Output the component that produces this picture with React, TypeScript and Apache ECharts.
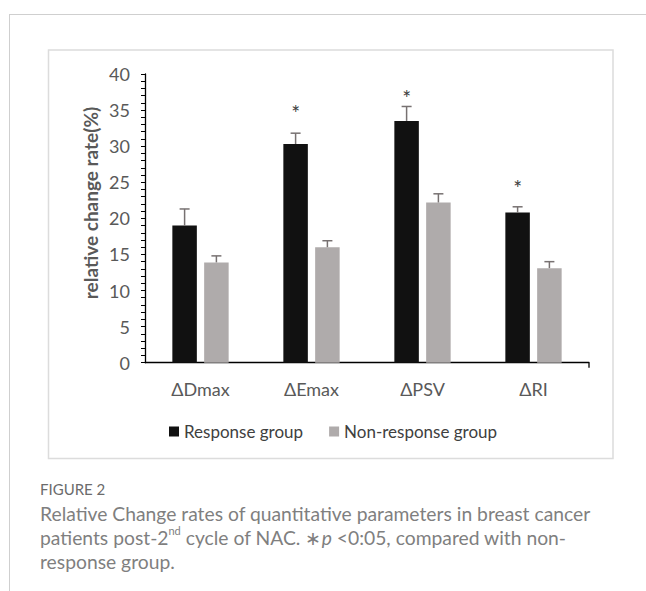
import React, { useEffect, useRef } from "react";
import * as echarts from "echarts";

const categories = ["ΔDmax", "ΔEmax", "ΔPSV", "ΔRI"];
const responseValues = [19.0, 30.3, 33.5, 20.8];
const responseErrTop = [21.3, 31.8, 35.5, 21.6];
const nonResponseValues = [13.9, 16.0, 22.2, 13.1];
const nonResponseErrTop = [14.8, 16.9, 23.4, 14.0];
const starValues: (number | null)[] = [null, 35.3, 37.5, 24.9];
const yTicks = { min: 0, max: 40, interval: 5 };
const seriesNames = ["Response group", "Non-response group"];

const FONT = "Lato";
const BAR_W = 24.5;
const GAP_PX = 7.3;
const OFF = (BAR_W + GAP_PX) / 2;

export default function App() {
  const ref = useRef<HTMLDivElement>(null);
  useEffect(() => {
    if (!ref.current) return;
    const chart = echarts.init(ref.current, null, { renderer: "svg" });

    const errRender = (offset: number) => (params: any, api: any) => {
      const i = api.value(0);
      const base = api.coord([i, api.value(1)]);
      const top = api.coord([i, api.value(2)]);
      const x = base[0] + offset;
      const st = { stroke: "#777171", lineWidth: 1.5 };
      return {
        type: "group",
        children: [
          { type: "line", shape: { x1: x, y1: base[1], x2: x, y2: top[1] }, style: st },
          { type: "line", shape: { x1: x - 5, y1: top[1], x2: x + 5, y2: top[1] }, style: st },
        ],
      };
    };

    const option: any = {
      animation: false,
      grid: { left: 145, right: 57, top: 74, bottom: 228.3, containLabel: false },
      legend: {
        data: seriesNames,
        left: 164,
        top: 418,
        icon: "rect",
        itemWidth: 10,
        itemHeight: 10,
        itemGap: 26,
        textStyle: { fontFamily: FONT, fontSize: 17, color: "#404040" },
      },
      xAxis: {
        type: "category",
        data: categories,
        boundaryGap: true,
        axisLine: { lineStyle: { color: "#000", width: 1.3 } },
        axisTick: { alignWithLabel: true, length: 5, lineStyle: { color: "#000", width: 1.3 } },
        axisLabel: { fontFamily: FONT, fontSize: 18, color: "#595959", margin: 17 },
      },
      yAxis: {
        type: "value",
        min: yTicks.min,
        max: yTicks.max,
        interval: yTicks.interval,
        axisLine: { show: true, lineStyle: { color: "#000", width: 1.3 } },
        axisTick: { show: true, inside: false, length: 4, lineStyle: { color: "#000", width: 1 } },
        minorTick: { show: true, splitNumber: 5, length: 4, lineStyle: { color: "#000", width: 1 } },
        splitLine: { show: false },
        axisLabel: { fontFamily: FONT, fontSize: 18, color: "#595959", margin: 15 },
      },
      series: [
        {
          name: seriesNames[0],
          type: "bar",
          data: responseValues,
          barWidth: BAR_W,
          barGap: ((GAP_PX / BAR_W) * 100).toFixed(1) + "%",
          itemStyle: { color: "#111111" },
        },
        {
          name: seriesNames[1],
          type: "bar",
          data: nonResponseValues,
          barWidth: BAR_W,
          itemStyle: { color: "#afabab" },
        },
        {
          type: "custom",
          z: 5,
          renderItem: errRender(-OFF),
          data: categories.map((_, i) => [i, responseValues[i], responseErrTop[i]]),
          encode: { x: 0, y: [1, 2] },
          silent: true,
        },
        {
          type: "custom",
          z: 5,
          renderItem: errRender(OFF),
          data: categories.map((_, i) => [i, nonResponseValues[i], nonResponseErrTop[i]]),
          encode: { x: 0, y: [1, 2] },
          silent: true,
        },
        {
          type: "custom",
          z: 5,
          renderItem: (params: any, api: any) => {
            const p = api.coord([api.value(0), api.value(1)]);
            return {
              type: "text",
              x: p[0] - OFF,
              y: p[1] + 5,
              style: {
                text: "*",
                fontFamily: FONT,
                fontSize: 21,
                fill: "#404040",
                align: "center",
                verticalAlign: "middle",
              },
            };
          },
          data: starValues
            .map((v, i) => (v == null ? null : [i, v]))
            .filter((d) => d != null),
          encode: { x: 0, y: 1 },
          silent: true,
        },
      ],
      graphic: [
        { type: "line", shape: { x1: 9, y1: 14.5, x2: 646, y2: 14.5 }, style: { stroke: "#cfcfcf", lineWidth: 1 } },
        { type: "line", shape: { x1: 9.5, y1: 14.5, x2: 9.5, y2: 591 }, style: { stroke: "#cfcfcf", lineWidth: 1 } },
        {
          type: "rect",
          shape: { x: 48.5, y: 50, width: 564.5, height: 408.5 },
          style: { fill: "none", stroke: "#dcdcdc", lineWidth: 1.5 },
          z: -1,
        },
        { type: "line", shape: { x1: 589, y1: 362.7, x2: 589, y2: 367.7 }, style: { stroke: "#000", lineWidth: 1.3 } },
        {
          type: "text",
          x: 90,
          y: 203,
          rotation: Math.PI / 2,
          style: {
            text: "relative change rate(%)",
            fontFamily: FONT,
            fontWeight: "bold",
            fontSize: 19,
            fill: "#595959",
            align: "center",
            verticalAlign: "middle",
          },
        },
        {
          type: "text",
          x: 40,
          y: 489,
          style: {
            text: "FIGURE 2",
            fontFamily: FONT,
            fontSize: 15,
            fill: "#6b6b6b",
            verticalAlign: "middle",
          },
        },
        {
          type: "text",
          x: 40,
          y: 501,
          style: {
            text:
              "Relative Change rates of quantitative parameters in breast cancer\n" +
              "patients post-2{sup|nd} cycle of NAC. ∗{it|p} <0:05, compared with non-\n" +
              "response group.",
            fontFamily: FONT,
            fontSize: 19.3,
            lineHeight: 24,
            fill: "#7f7f7f",
            rich: {
              sup: { fontFamily: FONT, fontSize: 11, fill: "#7f7f7f", verticalAlign: "top", lineHeight: 24, padding: [0, 0, 8, 0] },
              it: { fontFamily: FONT, fontSize: 19.3, fontStyle: "italic", fill: "#7f7f7f", lineHeight: 24 },
            },
          },
        },
      ],
    };
    chart.setOption(option);
    return () => chart.dispose();
  }, []);
  return (
    <div
      ref={ref}
      style={{ position: "absolute", left: 0, top: 0, width: 646, height: 591, background: "#fff" }}
    />
  );
}
